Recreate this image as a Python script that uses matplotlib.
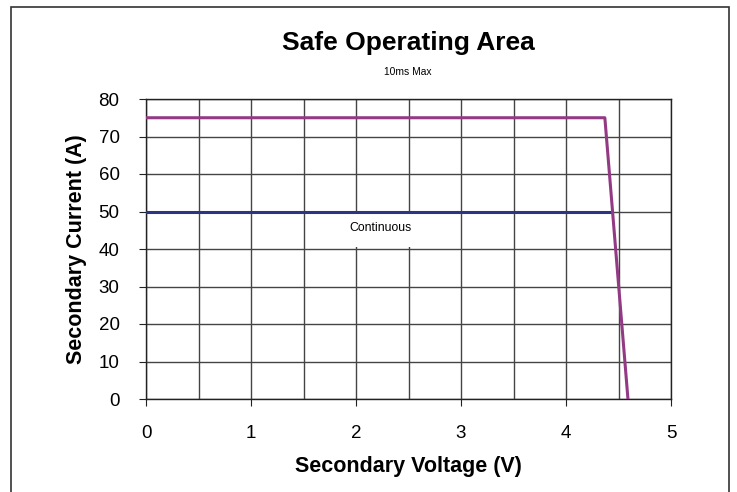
import matplotlib.pyplot as plt
from matplotlib.patches import Rectangle

plt.rcParams['font.family'] = ['Liberation Sans', 'DejaVu Sans']

# safe operating area curves (secondary voltage V, secondary current A)
max10ms_v = [0, 4.37, 4.59]
max10ms_i = [75, 75, 0]
cont_v = [0, 4.43]
cont_i = [50, 50]

x_ticks = [0, 1, 2, 3, 4, 5]
y_ticks = [0, 10, 20, 30, 40, 50, 60, 70, 80]

fig = plt.figure(figsize=(7.37, 4.92), dpi=100)
# outer frame
fig.patches.append(Rectangle((11 / 737, -0.05), 718 / 737, 1.05 - 7 / 492,
                             transform=fig.transFigure, fill=False,
                             edgecolor='#333333', linewidth=1.2))

ax = fig.add_axes([146 / 737, 93 / 492, 525 / 737, 300 / 492])

ax.plot(cont_v, cont_i, color='#2e3580', linewidth=2.2, zorder=3)
ax.plot(max10ms_v, max10ms_i, color='#933a85', linewidth=2.2, zorder=4)

ax.set_xlim(0, 5)
ax.set_ylim(0, 80)
ax.set_xticks(x_ticks)
ax.set_yticks(y_ticks)
ax.set_xticks([i * 0.5 for i in range(11)], minor=True)
ax.tick_params(axis='both', which='major', direction='out', length=5,
               labelsize=13.5, color='#222222')
ax.tick_params(axis='x', which='major', pad=14)
ax.tick_params(axis='y', which='major', pad=14)
ax.tick_params(axis='x', which='minor', length=0)
ax.grid(True, which='major', axis='y', color='#444444', linewidth=1)
ax.grid(True, which='both', axis='x', color='#444444', linewidth=1)
ax.set_axisbelow(True)
for s in ax.spines.values():
    s.set_color('#222222')
    s.set_linewidth(1)

# white label box sits over the grid, under the curves
ax.add_patch(Rectangle((1.88, 40.6), 0.72, 9.3, facecolor='white',
                       edgecolor='none', zorder=2))
ax.text(2.23, 45.5, 'Continuous', fontsize=8.8, ha='center', va='center', zorder=2.5)

ax.set_xlabel('Secondary Voltage (V)', fontsize=15.5, fontweight='bold')
ax.set_ylabel('Secondary Current (A)', fontsize=15.5, fontweight='bold')
ax.xaxis.set_label_coords(0.5, (399 - 456) / 300)
ax.yaxis.set_label_coords((87 - 146) / 525, 0.5)

fig.text(408 / 737, 1 - 43 / 492, 'Safe Operating Area', fontsize=19,
         fontweight='bold', ha='center', va='center')
fig.text(408 / 737, 1 - 72 / 492, '10ms Max', fontsize=7.4, ha='center', va='center')

fig.savefig('out.png', dpi=100)
